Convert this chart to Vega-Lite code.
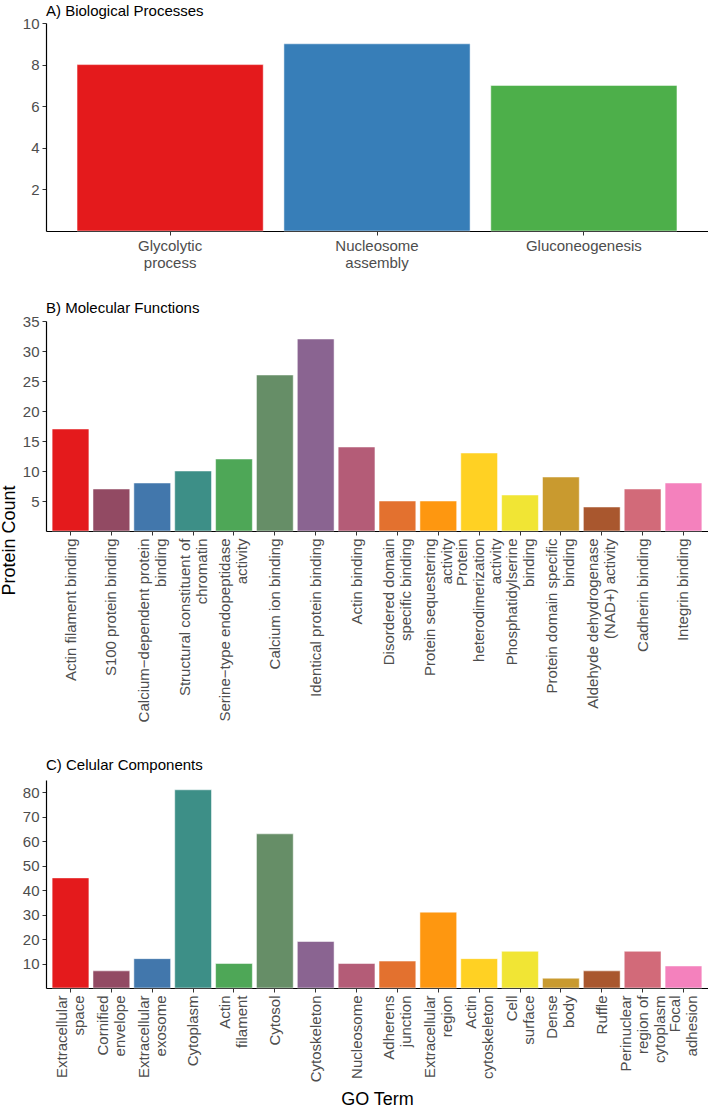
{
  "$schema": "https://vega.github.io/schema/vega-lite/v6.json",
  "padding": {"left": 0, "top": 4, "right": 0, "bottom": 0},
  "spacing": 31,
  "resolve": {"scale": {"color": "independent"}},
  "config": {
    "view": {"stroke": null},
    "font": "Liberation Sans",
    "axis": {
      "grid": false,
      "domainColor": "#000000",
      "domainWidth": 1.2,
      "tickColor": "#333333",
      "tickSize": 4,
      "labelColor": "#4D4D4D",
      "labelFontSize": 15,
      "labelPadding": 3,
      "labelLineHeight": 17,
      "titleFont": "Liberation Sans",
      "titleFontSize": 18,
      "titleFontWeight": "normal",
      "titleColor": "#000000"
    },
    "title": {
      "anchor": "start",
      "frame": "group",
      "fontSize": 15,
      "fontWeight": "normal",
      "color": "#000000",
      "baseline": "bottom"
    }
  },
  "datasets": {
    "bp": [
      {"term": "Glycolytic\nprocess", "count": 8},
      {"term": "Nucleosome\nassembly", "count": 9},
      {"term": "Gluconeogenesis", "count": 7}
    ],
    "mf": [
      {"term": "Actin filament binding", "count": 17},
      {"term": "S100 protein binding", "count": 7},
      {"term": "Calcium−dependent protein\nbinding", "count": 8},
      {"term": "Structural constituent of\nchromatin", "count": 10},
      {"term": "Serine−type endopeptidase\nactivity", "count": 12},
      {"term": "Calcium ion binding", "count": 26},
      {"term": "Identical protein binding", "count": 32},
      {"term": "Actin binding", "count": 14},
      {"term": "Disordered domain\nspecific binding", "count": 5},
      {"term": "Protein sequestering\nactivity", "count": 5},
      {"term": "Protein\nheterodimerization\nactivity", "count": 13},
      {"term": "Phosphatidylserine\nbinding", "count": 6},
      {"term": "Protein domain specific\nbinding", "count": 9},
      {"term": "Aldehyde dehydrogenase\n(NAD+) activity", "count": 4},
      {"term": "Cadherin binding", "count": 7},
      {"term": "Integrin binding", "count": 8}
    ],
    "cc": [
      {"term": "Extracellular\nspace", "count": 45},
      {"term": "Cornified\nenvelope", "count": 7},
      {"term": "Extracellular\nexosome", "count": 12},
      {"term": "Cytoplasm", "count": 81},
      {"term": "Actin\nfilament", "count": 10},
      {"term": "Cytosol", "count": 63},
      {"term": "Cytoskeleton", "count": 19},
      {"term": "Nucleosome", "count": 10},
      {"term": "Adherens\njunction", "count": 11},
      {"term": "Extracellular\nregion", "count": 31},
      {"term": "Actin\ncytoskeleton", "count": 12},
      {"term": "Cell\nsurface", "count": 15},
      {"term": "Dense\nbody", "count": 4},
      {"term": "Ruffle", "count": 7},
      {"term": "Perinuclear\nregion of\ncytoplasm", "count": 15},
      {"term": "Focal\nadhesion", "count": 9}
    ]
  },
  "vconcat": [
    {
      "width": 662,
      "height": 208,
      "title": {"text": "A) Biological Processes", "offset": -3},
      "data": {"name": "bp"},
      "mark": {"type": "bar", "stroke": "#FFFFFF", "strokeWidth": 0.5},
      "encoding": {
        "x": {
          "field": "term", "type": "nominal", "sort": null,
          "scale": {"paddingInner": 0.1, "paddingOuter": 0.15},
          "axis": {"title": null, "labelAngle": 0, "labelAlign": "center", "labelBaseline": "top", "labelLineHeight": 17, "labelExpr": "split(datum.label, '\\n')"}
        },
        "y": {
          "field": "count", "type": "quantitative",
          "scale": {"domain": [0, 10], "nice": false},
          "axis": {"title": null, "values": [2, 4, 6, 8, 10]}
        },
        "color": {
          "field": "term", "type": "nominal", "sort": null, "legend": null,
          "scale": {"range": ["#E41A1C", "#377EB8", "#4DAF4A"]}
        }
      }
    },
    {
      "width": 662,
      "height": 210,
      "title": {"text": "B) Molecular Functions", "offset": -2},
      "data": {"name": "mf"},
      "mark": {"type": "bar", "stroke": "#FFFFFF", "strokeWidth": 0.5},
      "encoding": {
        "x": {
          "field": "term", "type": "nominal", "sort": null,
          "scale": {"paddingInner": 0.1, "paddingOuter": 0.15},
          "axis": {
            "title": null, "labelAngle": -90, "labelAlign": "right", "labelBaseline": "middle", "labelLimit": 0,
            "minExtent": 196,
            "labelExpr": "split(datum.label, '\\n')",
            "labelOffset": {"condition": [
              {"test": "length(split(datum.value, '\\n')) >= 3", "value": -17},
              {"test": "indexof(datum.value, '\\n') >= 0", "value": -8.5}
            ], "value": 0}
          }
        },
        "y": {
          "field": "count", "type": "quantitative",
          "scale": {"domain": [0, 35], "nice": false},
          "axis": {"title": "Protein Count", "values": [5, 10, 15, 20, 25, 30, 35], "titleX": -32, "titleY": 219, "titleBaseline": "alphabetic", "titleAngle": -90, "titleAlign": "center"}
        },
        "color": {
          "field": "term", "type": "nominal", "sort": null, "legend": null,
          "scale": {"range": ["#E41A1C", "#924A63", "#4277AC", "#3D8F87", "#4EA757", "#668E67", "#8A6491", "#B45C77", "#E3712F", "#FE9710", "#FFD123", "#F1E534", "#C99A2F", "#A9572E", "#D26A79", "#F481BD"]}
        }
      }
    },
    {
      "width": 662,
      "height": 208,
      "title": {"text": "C) Celular Components", "offset": 7},
      "data": {"name": "cc"},
      "mark": {"type": "bar", "stroke": "#FFFFFF", "strokeWidth": 0.5},
      "encoding": {
        "x": {
          "field": "term", "type": "nominal", "sort": null,
          "scale": {"paddingInner": 0.1, "paddingOuter": 0.15},
          "axis": {
            "title": "GO Term", "titlePadding": 9, "labelAngle": -90, "labelAlign": "right", "labelBaseline": "middle", "labelLimit": 0,
            "labelExpr": "split(datum.label, '\\n')",
            "labelOffset": {"condition": [
              {"test": "length(split(datum.value, '\\n')) >= 3", "value": -17},
              {"test": "indexof(datum.value, '\\n') >= 0", "value": -8.5}
            ], "value": 0}
          }
        },
        "y": {
          "field": "count", "type": "quantitative",
          "scale": {"domain": [0, 85], "nice": false},
          "axis": {"title": null, "values": [10, 20, 30, 40, 50, 60, 70, 80]}
        },
        "color": {
          "field": "term", "type": "nominal", "sort": null, "legend": null,
          "scale": {"range": ["#E41A1C", "#924A63", "#4277AC", "#3D8F87", "#4EA757", "#668E67", "#8A6491", "#B45C77", "#E3712F", "#FE9710", "#FFD123", "#F1E534", "#C99A2F", "#A9572E", "#D26A79", "#F481BD"]}
        }
      }
    }
  ]
}
